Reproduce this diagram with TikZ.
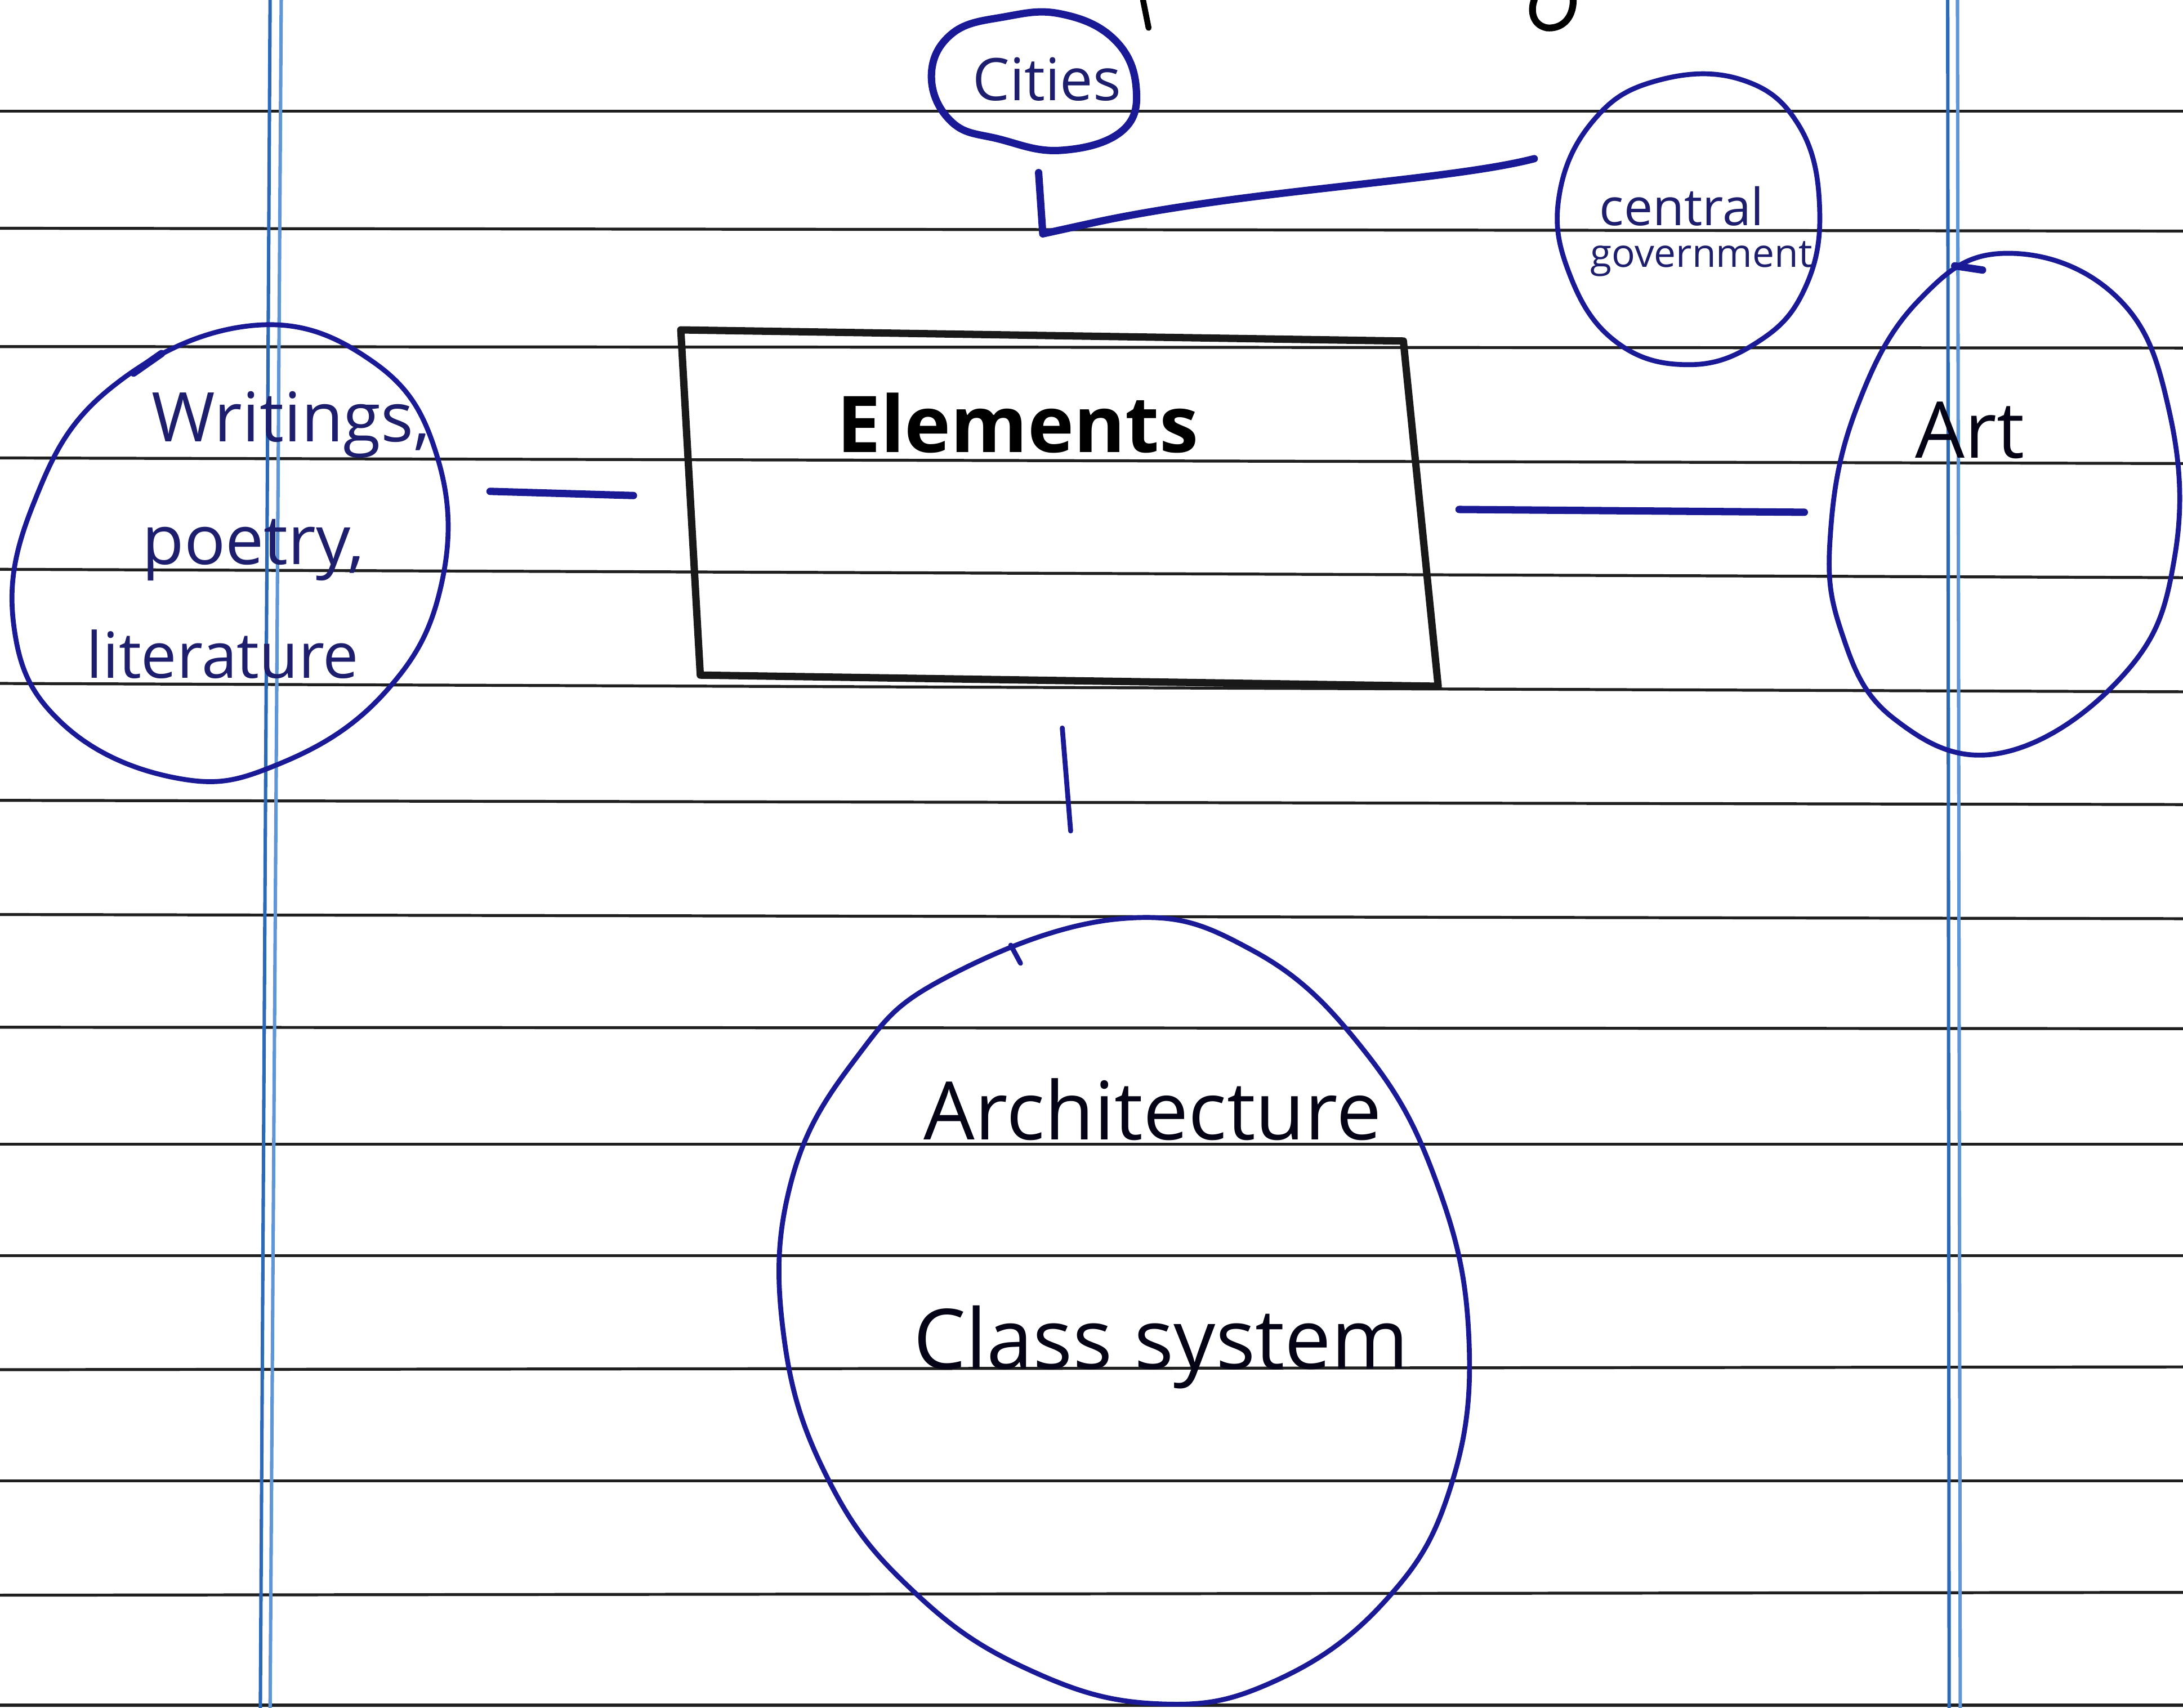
\documentclass[tikz,border=0pt]{standalone}
\usepackage{fontspec}
\newfontfamily\handfont{Open Sans}
\definecolor{inkblue}{RGB}{26,26,150}
\definecolor{inktext}{RGB}{30,30,110}
\definecolor{marginblue}{RGB}{45,105,185}
\definecolor{marginpale}{RGB}{95,150,215}
\begin{document}
\begin{tikzpicture}[x=0.02cm,y=-0.02cm,
  ink/.style={draw=inkblue, line width=2.0pt, line cap=round, line join=round},
  thickink/.style={draw=inkblue, line width=3.0pt, line cap=round, line join=round},
  paperline/.style={draw=black!88, line width=1.2pt},
  marginline/.style={draw=marginblue, line width=1.4pt},
  marginline2/.style={draw=marginpale, line width=1.4pt},
  boxline/.style={draw=black!90, line width=3.0pt, line join=round},
  hand/.style={inner sep=0pt, text=inktext, font=\handfont},
]
\useasboundingbox (0,0) rectangle (1568,1227);
\fill[white] (0,0) rectangle (1568,1227);

% ruled paper
\foreach \a/\b in {80/80,164/166,249/250,329/333,409/415,491/497,575/578,657/660,738/739,822/822,902/902,984/982,1064/1064,1146/1144,1225/1225}
  \draw[paperline] (0,\a) -- (1568,\b);
% margins
\draw[marginline] (194,0) -- (187,1227);
\draw[marginline2] (202,0) -- (194,1227);
\draw[marginline] (1399,0) -- (1400,1227);
\draw[marginline2] (1406,0) -- (1408,1227);

% cut-off title strokes at the top
\draw[black, line width=2.4pt, line cap=round] (821,0) -- (825,20);
\draw[black, line width=2.8pt, line cap=round] (1130,0) .. controls (1130,14) and (1121,21) .. (1111,20) .. controls (1101,18) and (1099,8) .. (1102,0);

% Elements box
\draw[boxline] (489,237) -- (1008,245) -- (1033,493) -- (503,485) -- cycle;
\node[hand, text=black, font=\handfont\bfseries\fontsize{32}{36}\selectfont] (elements) at (731,304) {Elements};

% Writings circle
\draw[ink] plot[smooth cycle, tension=0.7] coordinates {(180,234) (268,260) (314,328) (317,420) (276,498) (200,549) (127,559) (45,520) (10,450) (24,362) (78,280)};
\draw[thickink] (96,268) -- (116,254);
\node[hand, font=\handfont\fontsize{28}{32}\selectfont] (writings) at (209,305) {Writings,};
\node[hand, font=\handfont\fontsize{28}{32}\selectfont] (poetry) at (182,395) {poetry,};
\node[hand, font=\handfont\fontsize{26}{30}\selectfont] (literature) at (160,470) {literature};

% Art circle
\draw[ink] plot[smooth cycle, tension=0.7] coordinates {(1440,182) (1520,213) (1558,295) (1562,400) (1526,484) (1437,541) (1360,516) (1322,452) (1315,380) (1334,292) (1378,216)};
\draw[thickink] (1404,191) -- (1424,194);
\node[hand, text=black!85!inkblue, font=\handfont\fontsize{32}{36}\selectfont] (art) at (1415,309) {Art};

% Cities circle
\draw[thickink] plot[smooth cycle, tension=0.7] coordinates {(722,12) (762,10) (800,28) (816,62) (806,94) (762,108) (718,100) (684,88) (669,55) (684,24)};
\node[hand, font=\handfont\fontsize{24}{28}\selectfont] (cities) at (752,57) {Cities};

% central government circle
\draw[ink] plot[smooth cycle, tension=0.7] coordinates {(1190,58) (1250,57) (1292,90) (1307,150) (1296,208) (1262,246) (1212,262) (1160,245) (1127,196) (1120,140) (1145,86)};
\node[hand, font=\handfont\fontsize{21}{24}\selectfont] (central) at (1208,148) {central};
\node[hand, font=\handfont\fontsize{16}{20}\selectfont] (government) at (1222,186) {government};

% Architecture / Class system circle
\draw[ink] plot[smooth cycle, tension=0.7] coordinates {(805,660) (900,683) (980,755) (1032,850) (1055,960) (1042,1068) (995,1150) (915,1208) (831,1224) (740,1200) (658,1145) (596,1065) (563,960) (568,850) (615,760) (680,702)};
\draw[ink] (726,679) -- (733,692);
\node[hand, text=black!85!inkblue, font=\handfont\fontsize{33}{38}\selectfont] (architecture) at (828,797) {Architecture};
\node[hand, text=black!85!inkblue, font=\handfont\fontsize{34}{38}\selectfont] (classsystem) at (834,968) {Class system};

% connectors
\coordinate (lA) at (352,353);
\coordinate (lB) at (455,356);
\draw[thickink] (lA) -- (lB);
\coordinate (rA) at (1048,366);
\coordinate (rB) at (1296,368);
\draw[thickink] (rA) -- (rB);
\coordinate (dA) at (763,523);
\coordinate (dB) at (769,597);
\draw[ink] (dA) -- (dB);
\coordinate (cA) at (746,124);
\coordinate (cB) at (749,168);
\coordinate (cC) at (1102,114);
\draw[thickink] (cA) -- (cB) -- (790,159) .. controls (900,136) and (1040,130) .. (cC);
\end{tikzpicture}
\end{document}
